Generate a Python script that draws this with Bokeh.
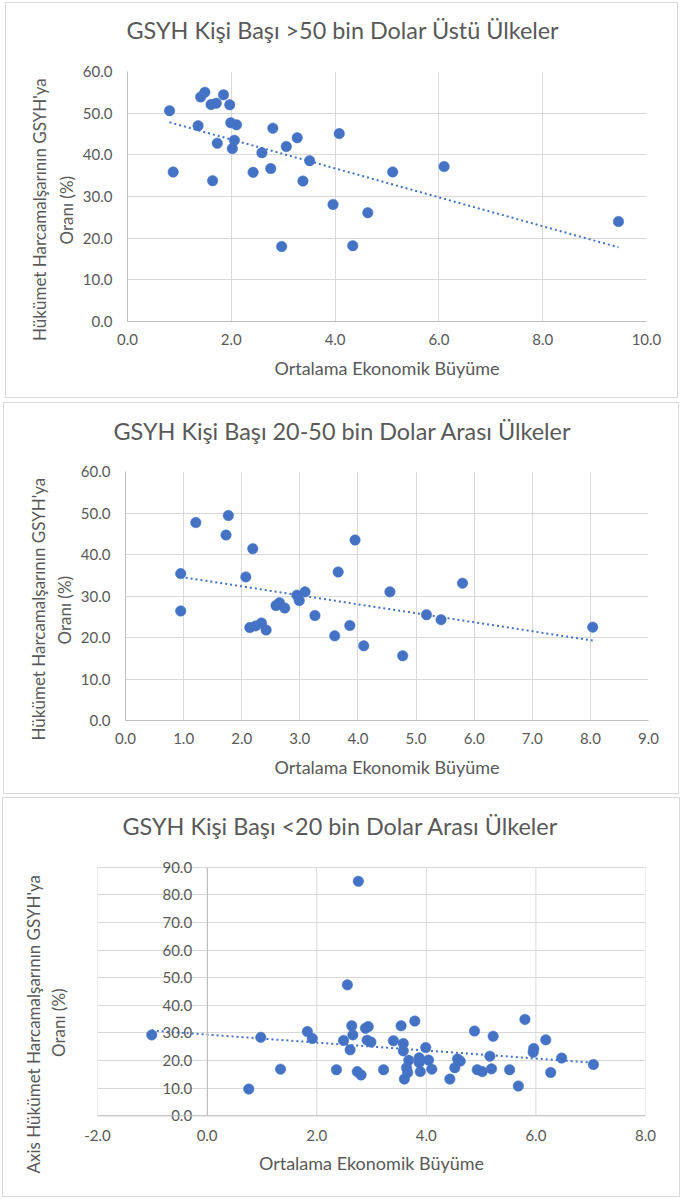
import numpy as np
from bokeh.plotting import figure
from bokeh.models import FixedTicker, PrintfTickFormatter, Range1d, Title, Span
from bokeh.layouts import column, row
from bokeh.embed import file_html
from bokeh.resources import INLINE

FONT = "Lato"
INK = "#595959"
DOT = "#4472C4"
GRID = "#d9d9d9"
AXIS = "#bfbfbf"

X_LABEL = "Ortalama Ekonomik Büyüme"
Y_LABEL_LINE1 = "Hükümet Harcamalşarının GSYH'ya"
Y_LABEL_LINE1_AXIS = "Axis Hükümet Harcamalşarının GSYH'ya"
Y_LABEL_LINE2 = "Oranı (%)"

# --- per-capita GDP above 50k USD ---
title_over50 = "GSYH Kişi Başı >50 bin Dolar Üstü Ülkeler"
growth_over50 = [0.81, 0.88, 1.41, 1.49, 1.36, 1.61, 1.71, 1.73, 1.64, 1.85,
                 1.97, 1.99, 2.10, 2.06, 2.02, 2.59, 2.42, 2.80, 2.76, 3.06,
                 3.27, 3.51, 3.38, 2.97, 3.96, 4.08, 4.34, 4.63, 5.11, 6.10, 9.46]
spending_over50 = [50.6, 35.9, 53.9, 55.0, 47.0, 52.1, 52.4, 42.8, 33.8, 54.4,
                   52.0, 47.7, 47.2, 43.5, 41.5, 40.5, 35.8, 46.4, 36.7, 42.0,
                   44.1, 38.6, 33.7, 18.0, 28.1, 45.1, 18.2, 26.1, 35.9, 37.2, 24.0]
xticks_over50 = [0, 2, 4, 6, 8, 10]
yticks_over50 = [0, 10, 20, 30, 40, 50, 60]

# --- per-capita GDP between 20k and 50k USD ---
title_20to50 = "GSYH Kişi Başı 20-50 bin Dolar Arası Ülkeler"
growth_20to50 = [0.95, 0.95, 1.21, 1.77, 1.73, 2.19, 2.07, 2.14, 2.24, 2.34,
                 2.42, 2.59, 2.65, 2.74, 2.95, 3.09, 2.99, 3.26, 3.66, 3.60,
                 3.86, 3.95, 4.10, 4.55, 4.77, 5.18, 5.43, 5.80, 8.04]
spending_20to50 = [35.4, 26.4, 47.7, 49.4, 44.7, 41.4, 34.6, 22.4, 22.8, 23.5,
                   21.8, 27.7, 28.4, 27.1, 30.2, 31.0, 28.9, 25.3, 35.8, 20.4,
                   22.9, 43.5, 18.0, 31.0, 15.6, 25.5, 24.3, 33.1, 22.5]
xticks_20to50 = [0, 1, 2, 3, 4, 5, 6, 7, 8, 9]
yticks_20to50 = [0, 10, 20, 30, 40, 50, 60]

# --- per-capita GDP below 20k USD ---
title_under20 = "GSYH Kişi Başı <20 bin Dolar Arası Ülkeler"
growth_under20 = [-1.01, 0.98, 0.76, 1.34, 1.83, 1.92, 2.36, 2.56, 2.76, 2.64,
                  2.49, 2.66, 2.61, 2.74, 2.81, 2.89, 2.94, 2.92, 2.99, 3.22,
                  3.40, 3.54, 3.79, 3.58, 3.58, 3.60, 3.68, 3.64, 3.66, 3.87,
                  3.87, 3.89, 3.99, 4.04, 4.10, 4.43, 4.52, 4.57, 4.62, 4.88,
                  4.93, 5.02, 5.16, 5.19, 5.22, 5.52, 5.68, 5.80, 5.96, 5.95,
                  6.18, 6.27, 6.47, 7.05]
spending_under20 = [29.3, 28.4, 9.7, 16.9, 30.5, 28.0, 16.7, 47.4, 84.9, 32.6,
                    27.3, 29.3, 23.9, 16.0, 14.8, 31.7, 32.3, 27.4, 26.7, 16.7,
                    27.2, 32.6, 34.3, 26.2, 23.5, 13.3, 20.1, 17.4, 15.7, 21.0,
                    19.3, 16.0, 24.7, 20.2, 16.9, 13.3, 17.4, 20.6, 19.8, 30.7,
                    16.7, 16.0, 21.6, 17.0, 28.8, 16.7, 10.8, 34.9, 24.4, 23.0,
                    27.5, 15.7, 20.9, 18.6]
xticks_under20 = [-2, 0, 2, 4, 6, 8]
yticks_under20 = [0, 10, 20, 30, 40, 50, 60, 70, 80, 90]


def style_text(obj, size):
    obj.text_font = FONT
    obj.text_font_size = size
    obj.text_font_style = "normal"
    obj.text_color = INK


def gap(px):
    """Blank side-panel entry that reserves roughly `px` pixels."""
    return Title(text=" ", text_font_size="1px", standoff=max(px - 3, 0))


def panel(title, ylab1, ylab2, growth, spending, xticks, yticks,
          width, height, pad, margin, title_offset, title_gap,
          ylab_offsets, ylab_standoffs, ylab_gap=0, inner_y_axis=False):
    left, right, top, bottom = pad
    # an axis drawn inside the frame is clipped to it, so leave a little
    # headroom around the value range in that case
    ypad = 3.5 if inner_y_axis else 0.0
    p = figure(width=width, height=height,
               x_range=Range1d(xticks[0], xticks[-1]),
               y_range=Range1d(yticks[0] - ypad, yticks[-1] + ypad),
               output_backend="svg", toolbar_location=None,
               min_border_left=left, min_border_right=right,
               min_border_top=top, min_border_bottom=bottom,
               margin=margin,
               styles={"border": f"1px solid {GRID}", "box-sizing": "border-box"})
    p.outline_line_color = None
    p.background_fill_color = "white"
    p.border_fill_color = "white"

    p.title.text = title
    p.title.align = "left"
    p.title.offset = title_offset
    p.title.standoff = 10
    style_text(p.title, "23.4px")
    # the chart title sits outermost; this blank entry lifts it off the frame
    p.add_layout(gap(title_gap), "above")

    for axes, ticks in ((p.xaxis, xticks), (p.yaxis, yticks)):
        axes.ticker = FixedTicker(ticks=ticks)
        axes.formatter = PrintfTickFormatter(format="%.1f")
        axes.major_tick_line_color = None
        axes.minor_tick_line_color = None
        axes.major_tick_in = 0
        axes.major_tick_out = 0
        axes.minor_tick_in = 0
        axes.minor_tick_out = 0
        axes.axis_line_color = AXIS
        axes.axis_line_width = 1
        axes.major_label_text_font = FONT
        axes.major_label_text_font_size = "15px"
        axes.major_label_text_color = INK

    p.yaxis.major_label_standoff = 15
    p.xaxis.axis_label = X_LABEL
    p.xaxis.axis_label_text_font = FONT
    p.xaxis.axis_label_text_font_size = "18px"
    p.xaxis.axis_label_text_font_style = "normal"
    p.xaxis.axis_label_text_color = INK

    p.ygrid.ticker = FixedTicker(ticks=yticks)
    p.ygrid.grid_line_color = GRID
    p.ygrid.grid_line_width = 1

    if inner_y_axis:
        p.yaxis.fixed_location = 0
        p.yaxis.bounds = (yticks[0], yticks[-1])
        p.xaxis.axis_line_color = None
        p.xaxis.major_label_standoff = 4
        p.xaxis.axis_label_standoff = 8
        p.xgrid.visible = False
        p.segment(x0=xticks, y0=yticks[0], x1=xticks, y1=yticks[-1],
                  line_color=GRID, line_width=1)
        p.add_layout(Span(location=yticks[0], dimension="width",
                          line_color=AXIS, line_width=1))
    else:
        p.xaxis.major_label_standoff = 12
        p.xaxis.axis_label_standoff = 9
        p.xgrid.ticker = FixedTicker(ticks=xticks)
        p.xgrid.grid_line_color = GRID
        p.xgrid.grid_line_width = 1

    p.scatter(growth, spending, size=10.5, fill_color=DOT, line_color=DOT,
              line_width=0.5)

    # least-squares linear trend, drawn across the observed growth span
    slope, intercept = np.polyfit(growth, spending, 1)
    tx = [min(growth), max(growth)]
    ty = [slope * v + intercept for v in tx]
    p.line(tx, ty, line_color=DOT, line_width=2, line_dash="2 3")

    # two-line vertical axis caption; entries added first sit nearest the axis
    if ylab_gap:
        p.add_layout(gap(ylab_gap), "left")
    for txt, off, so in ((ylab2, ylab_offsets[1], ylab_standoffs[1]),
                         (ylab1, ylab_offsets[0], ylab_standoffs[0])):
        t = Title(text=txt, align="left", offset=off, standoff=so)
        style_text(t, "17px")
        p.add_layout(t, "left")
    return p


p1 = panel(title_over50, Y_LABEL_LINE1, Y_LABEL_LINE2,
           growth_over50, spending_over50, xticks_over50, yticks_over50,
           width=673, height=396, pad=(121, 33, 68, 78), margin=(2, 0, 0, 5),
           title_offset=-1, title_gap=22.5,
           ylab_offsets=(-19.5, 77), ylab_standoffs=(2, 6))
p2 = panel(title_20to50, Y_LABEL_LINE1, Y_LABEL_LINE2,
           growth_20to50, spending_20to50, xticks_20to50, yticks_20to50,
           width=676, height=392, pad=(121, 32, 68, 75), margin=(4, 0, 0, 3),
           title_offset=-12, title_gap=22,
           ylab_offsets=(-20, 76), ylab_standoffs=(2, 5))
p3 = panel(title_under20, Y_LABEL_LINE1_AXIS, Y_LABEL_LINE2,
           growth_under20, spending_under20, xticks_under20, yticks_under20,
           width=678, height=400, pad=(94, 36, 59, 73), margin=(3, 0, 0, 2),
           title_offset=25, title_gap=12.5,
           ylab_offsets=(-48, 68.5), ylab_standoffs=(2, 2), ylab_gap=28,
           inner_y_axis=True)

layout = column(row(p1), row(p2), row(p3))
open("out.html", "w").write(file_html(layout, INLINE))
